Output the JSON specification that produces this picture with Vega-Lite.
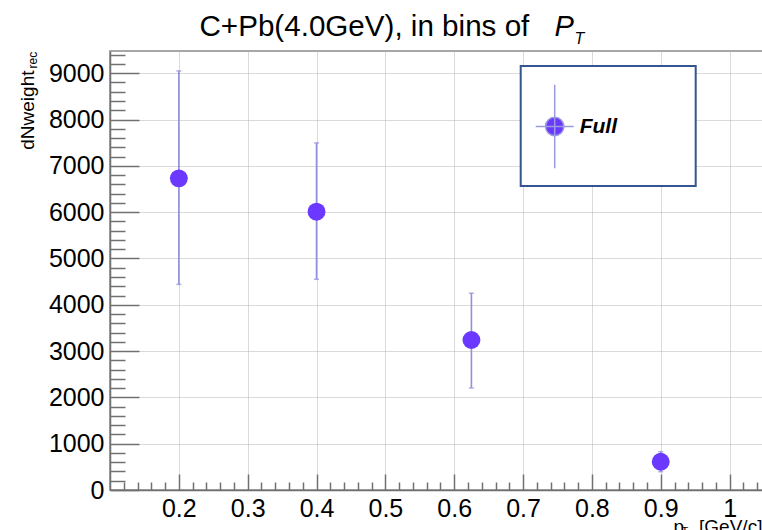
{
  "$schema": "https://vega.github.io/schema/vega-lite/v6.json",
  "width": 654,
  "height": 439,
  "autosize": {"type": "none"},
  "padding": {"left": 110, "top": 51, "right": 0, "bottom": 40},
  "background": "white",
  "config": {
    "view": {"stroke": "#8a8a8a", "strokeWidth": 1.5},
    "font": "Liberation Sans",
    "axis": {
      "labelFont": "Liberation Sans",
      "titleFont": "Liberation Sans",
      "labelColor": "#000000",
      "titleColor": "#000000",
      "titleFontWeight": "normal",
      "tickColor": "#707070",
      "tickWidth": 1.5,
      "domainColor": "#707070",
      "domainWidth": 1.5,
      "labelFlush": false,
      "labelOverlap": false,
      "labelBound": false
    },
    "legend": {"strokeWidth": 2}
  },
  "data": {
    "values": [
      {"pt": 0.2, "w": 6730, "lo": 4440, "hi": 9050, "series": "Full"},
      {"pt": 0.4, "w": 6010, "lo": 4550, "hi": 7495, "series": "Full"},
      {"pt": 0.625, "w": 3240, "lo": 2203, "hi": 4250, "series": "Full"},
      {"pt": 0.9, "w": 610, "lo": 395, "hi": 827, "series": "Full"}
    ]
  },
  "layer": [
    {
      "mark": {"type": "rule", "color": "#9090dc", "strokeWidth": 1.6},
      "encoding": {
        "x": {
          "field": "pt", "type": "quantitative",
          "scale": {"domain": [0.1, 1.05], "nice": false, "zero": false},
          "axis": {
            "orient": "bottom",
            "values": [0.2, 0.3, 0.4, 0.5, 0.6, 0.7, 0.8, 0.9, 1.0],
            "format": "~g",
            "ticks": false,
            "domain": true,
            "grid": true,
            "gridColor": "#b4b4b4",
            "gridDash": [1, 1],
            "gridWidth": 1,
            "labelFontSize": 25,
            "labelPadding": 6,
            "title": "p",
            "titleFontSize": 19,
            "titleX": 563,
            "titleY": 42.5,
            "titleAlign": "left",
            "titleBaseline": "alphabetic",
            "titleAngle": 0
          }
        },
        "y": {
          "field": "lo", "type": "quantitative",
          "scale": {"domain": [0, 9480], "nice": false, "zero": false},
          "axis": {
            "orient": "left",
            "values": [0, 1000, 2000, 3000, 4000, 5000, 6000, 7000, 8000, 9000],
            "format": "d",
            "ticks": false,
            "domain": true,
            "grid": true,
            "gridColor": "#b4b4b4",
            "gridDash": [1, 1],
            "gridWidth": 1,
            "labelFontSize": 25,
            "labelPadding": 6,
            "title": "dNweight",
            "titleFontSize": 19,
            "titleAngle": 270,
            "titleX": -76.7,
            "titleY": 19,
            "titleAlign": "right",
            "titleBaseline": "alphabetic"
          }
        },
        "y2": {"field": "hi"}
      }
    },
    {
      "mark": {"type": "tick", "orient": "horizontal", "color": "#9090dc", "size": 5, "thickness": 1.5},
      "encoding": {
        "x": {
          "field": "pt", "type": "quantitative",
          "scale": {"domain": [0.1, 1.05], "nice": false, "zero": false},
          "axis": {
            "orient": "bottom",
            "values": [0.2, 0.3, 0.4, 0.5, 0.6, 0.7, 0.8, 0.9, 1.0],
            "ticks": true,
            "tickSize": -16,
            "labels": false,
            "domain": false,
            "grid": false,
            "title": "T",
            "titleFontSize": 11,
            "titleX": 571,
            "titleY": 44.5,
            "titleAlign": "left",
            "titleBaseline": "alphabetic",
            "titleAngle": 0
          }
        },
        "y": {
          "field": "lo", "type": "quantitative",
          "scale": {"domain": [0, 9480], "nice": false, "zero": false},
          "axis": {
            "orient": "left",
            "values": [0, 1000, 2000, 3000, 4000, 5000, 6000, 7000, 8000, 9000],
            "ticks": true,
            "tickSize": -29,
            "labels": false,
            "domain": false,
            "grid": false,
            "title": "rec",
            "titleFontSize": 12,
            "titleAngle": 270,
            "titleX": -73.5,
            "titleY": 17,
            "titleAlign": "left",
            "titleBaseline": "alphabetic"
          }
        }
      }
    },
    {
      "mark": {"type": "tick", "orient": "horizontal", "color": "#9090dc", "size": 5, "thickness": 1.5},
      "encoding": {
        "x": {
          "field": "pt", "type": "quantitative",
          "scale": {"domain": [0.1, 1.05], "nice": false, "zero": false},
          "axis": {
            "orient": "bottom",
            "values": [0.12, 0.14, 0.16, 0.18, 0.22, 0.24, 0.26, 0.28, 0.32, 0.34, 0.36, 0.38, 0.42, 0.44, 0.46, 0.48, 0.52, 0.54, 0.56, 0.58, 0.62, 0.64, 0.66, 0.68, 0.72, 0.74, 0.76, 0.78, 0.82, 0.84, 0.86, 0.88, 0.92, 0.94, 0.96, 0.98, 1.02, 1.04],
            "ticks": true,
            "tickSize": -8,
            "labels": false,
            "domain": false,
            "grid": false,
            "title": ", [GeV/c]",
            "titleFontSize": 19,
            "titleX": 578,
            "titleY": 42.5,
            "titleAlign": "left",
            "titleBaseline": "alphabetic",
            "titleAngle": 0
          }
        },
        "y": {
          "field": "hi", "type": "quantitative",
          "scale": {"domain": [0, 9480], "nice": false, "zero": false},
          "axis": {
            "orient": "left",
            "values": [200, 400, 600, 800, 1200, 1400, 1600, 1800, 2200, 2400, 2600, 2800, 3200, 3400, 3600, 3800, 4200, 4400, 4600, 4800, 5200, 5400, 5600, 5800, 6200, 6400, 6600, 6800, 7200, 7400, 7600, 7800, 8200, 8400, 8600, 8800, 9200, 9400],
            "ticks": true,
            "tickSize": -15,
            "labels": false,
            "domain": false,
            "grid": false,
            "title": "T",
            "titleFontSize": 16,
            "titleFontStyle": "italic",
            "titleAngle": 0,
            "titleX": 464,
            "titleY": -7.7,
            "titleAlign": "left",
            "titleBaseline": "alphabetic"
          }
        }
      }
    },
    {
      "mark": {"type": "point", "filled": true, "shape": "circle", "size": 320, "opacity": 1},
      "encoding": {
        "x": {
          "field": "pt", "type": "quantitative",
          "scale": {"domain": [0.1, 1.05], "nice": false, "zero": false},
          "axis": {
            "orient": "top",
            "ticks": false,
            "labels": false,
            "domain": false,
            "grid": false,
            "title": "C+Pb(4.0GeV), in bins of",
            "titleFontSize": 29.6,
            "titleX": 89,
            "titleY": -16,
            "titleAlign": "left",
            "titleBaseline": "alphabetic",
            "titleAngle": 0
          }
        },
        "y": {
          "field": "w", "type": "quantitative",
          "scale": {"domain": [0, 9480], "nice": false, "zero": false},
          "axis": {
            "orient": "left",
            "ticks": false,
            "labels": false,
            "domain": false,
            "grid": false,
            "title": "P",
            "titleFontSize": 29,
            "titleFontStyle": "italic",
            "titleAngle": 0,
            "titleX": 444,
            "titleY": -16,
            "titleAlign": "left",
            "titleBaseline": "alphabetic"
          }
        },
        "color": {
          "field": "series", "type": "nominal",
          "scale": {"range": ["#6a38ff"]},
          "legend": {
            "orient": "none",
            "legendX": 410.7,
            "legendY": 15,
            "title": null,
            "padding": 14,
            "strokeColor": "#34558f",
            "fillColor": "#ffffff",
            "cornerRadius": 0,
            "symbolType": "M0,-0.91L0,0.91M-0.415,0L0.415,0M0.2,0A0.2,0.2,0,1,1,-0.2,0A0.2,0.2,0,1,1,0.2,0Z",
            "symbolSize": 8372,
            "symbolStrokeColor": "#9a9ae0",
            "symbolStrokeWidth": 1.5,
            "symbolOffset": -26.5,
            "labelOffset": -21.5,
            "labelFont": "Liberation Sans",
            "labelFontSize": 21,
            "labelFontWeight": "bold",
            "labelFontStyle": "italic",
            "labelColor": "#000000",
            "labelLimit": 400,
            "labelExpr": "datum.label + '           \u200b'"
          }
        }
      }
    }
  ],
  "resolve": {"axis": {"x": "independent", "y": "independent"}}
}
